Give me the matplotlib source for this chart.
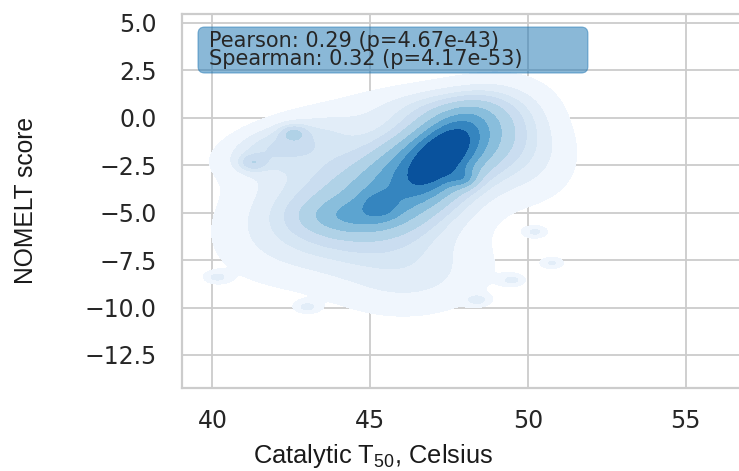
import numpy as np
import matplotlib
matplotlib.use("Agg")
import matplotlib.pyplot as plt
from matplotlib.patches import FancyBboxPatch

# Density model: a mixture of bivariate Gaussian components
# (centre, spread, correlation and weight of each component)
comp_x   = [47.5, 45.81, 43.05, 46.39, 49.87, 42.8, 47.3, 45.3, 47.95, 44.3, 46.8, 41.6,
            42.56, 41.26, 40.15, 43.0, 48.4, 49.5, 50.77, 50.23]
comp_y   = [-1.5, -4.2, -4.9, -8.3, -1.8, -1.3, -1.9, -4.6, -3.17, -5.2, 0.6, -1.6,
            -0.8, -2.38, -8.4, -9.97, -9.6, -8.55, -7.65, -6.02]
comp_sx  = [1.45, 1.75, 1.85, 1.75, 1.15, 1.4, 0.75, 0.4, 0.3, 1.0, 1.6, 1.0,
            0.3, 0.3, 0.25, 0.25, 0.25, 0.25, 0.25, 0.25]
comp_sy  = [1.7, 2.0, 2.2, 1.5, 1.75, 1.15, 1.3, 0.5, 0.35, 0.6, 0.8, 0.8,
            0.3, 0.3, 0.2, 0.2, 0.2, 0.2, 0.2, 0.2]
comp_rho = [0.45, 0.3, 0.3, 0.1, -0.1, 0.4, 0.6, 0.0, 0.0, 0.0, 0.0, 0.4,
            0.0, 0.0, 0.0, 0.0, 0.0, 0.0, 0.0, 0.0]
comp_w   = [0.27, 0.30, 0.17, 0.08, 0.06, 0.055, 0.06, 0.007, 0.004, 0.02, 0.03, 0.015,
            0.003, 0.003, 0.0015, 0.0015, 0.0015, 0.0015, 0.0015, 0.0015]

x_ticks = [40, 45, 50, 55]
y_ticks = [5.0, 2.5, 0.0, -2.5, -5.0, -7.5, -10.0, -12.5]
x_limits = (39.02, 56.69)
y_limits = (-14.24, 5.47)

stats_text = "Pearson: 0.29 (p=4.67e-43)\nSpearman: 0.32 (p=4.17e-53)"
x_label = r"Catalytic T$_{50}$, Celsius"
y_label = "NOMELT score"


def mixture_density(xx, yy):
    z = np.zeros_like(xx)
    for mx, my, sx, sy, r, w in zip(comp_x, comp_y, comp_sx, comp_sy, comp_rho, comp_w):
        dx = (xx - mx) / sx
        dy = (yy - my) / sy
        q = (dx ** 2 - 2 * r * dx * dy + dy ** 2) / (1 - r ** 2)
        z += w * np.exp(-0.5 * q) / (2 * np.pi * sx * sy * np.sqrt(1 - r ** 2))
    return z


def iso_proportion_levels(z, props):
    vals = np.sort(z.ravel())[::-1]
    cum = np.cumsum(vals) / vals.sum()
    idx = np.searchsorted(cum, 1 - np.asarray(props))
    return np.take(vals, idx, mode="clip")


def fit_size(text_obj, renderer, target_px, axis):
    ext = text_obj.get_window_extent(renderer)
    cur = ext.width if axis == "w" else ext.height
    text_obj.set_fontsize(text_obj.get_fontsize() * target_px / cur)


plt.rcParams["mathtext.fontset"] = "custom"
plt.rcParams["mathtext.rm"] = "Liberation Sans"
plt.rcParams["mathtext.it"] = "Liberation Sans:italic"

fig = plt.figure(figsize=(7.39, 4.71), dpi=100)
ax = fig.add_axes([181.5 / 739, 83 / 471, 557.5 / 739, 374 / 471])

gx = np.linspace(37, 59, 340)
gy = np.linspace(-16, 7, 340)
xx, yy = np.meshgrid(gx, gy)
zz = mixture_density(xx, yy)
levels = iso_proportion_levels(zz, np.linspace(0.05, 1, 10))
ax.contourf(xx, yy, zz, levels=levels, cmap="Blues", zorder=2)

ax.set_xlim(*x_limits)
ax.set_ylim(*y_limits)
ax.set_xticks(x_ticks)
ax.set_yticks(y_ticks)
ax.set_xticklabels([str(t) for t in x_ticks])
ax.set_yticklabels([f"{t:.1f}".replace("-", "\u2212") for t in y_ticks])

ax.grid(True, color="#cccccc", linewidth=1.3, zorder=0)
ax.set_axisbelow(True)
for side in ("top", "left", "bottom"):
    ax.spines[side].set_color("#cccccc")
    ax.spines[side].set_linewidth(1.6)
ax.spines["right"].set_visible(False)
ax.tick_params(axis="both", length=0, labelsize=17, colors="#262626")
ax.tick_params(axis="y", pad=18)
ax.tick_params(axis="x", pad=15)
for lab in ax.get_xticklabels() + ax.get_yticklabels():
    lab.set_fontfamily("DejaVu Sans")

xl = ax.set_xlabel(x_label, fontsize=18, family="Liberation Sans", color="#1a1a1a",
                   va="center")
ax.xaxis.set_label_coords(0.3435, -0.182)
yl = ax.set_ylabel(y_label, fontsize=18, family="Liberation Sans", color="#1a1a1a",
                   va="center")
ax.yaxis.set_label_coords(-0.279, 0.5)

box = FancyBboxPatch((0.0296, 0.8422), 0.6994, 0.123,
                     boxstyle="round,pad=0,rounding_size=0.012",
                     mutation_aspect=557.5 / 374,
                     transform=ax.transAxes, facecolor="#1f77b4", alpha=0.52,
                     edgecolor="#1f77b4", linewidth=0.8, zorder=5)
ax.add_patch(box)
ax.text(0.05, 0.9037, stats_text, transform=ax.transAxes, ha="left", va="center",
        fontsize=15, family="DejaVu Sans", color="#262626", linespacing=0.92, zorder=6)

renderer = fig.canvas.get_renderer()
fit_size(yl, renderer, 167, "h")
fit_size(xl, renderer, 240, "w")

fig.savefig("out.png", dpi=100)
